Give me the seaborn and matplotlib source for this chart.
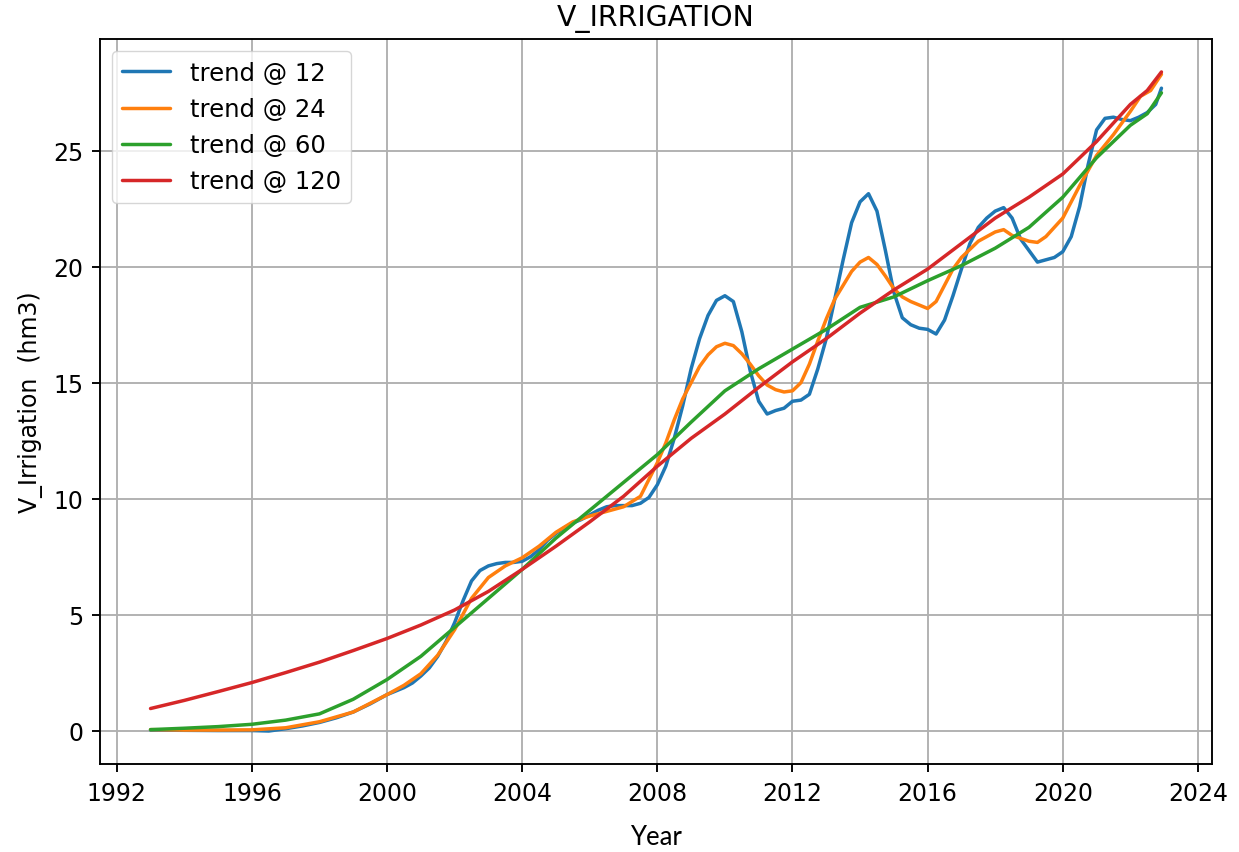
import matplotlib
matplotlib.use("Agg")
import matplotlib.pyplot as plt
import pandas as pd
import seaborn as sns
from matplotlib.ticker import MultipleLocator, FormatStrFormatter

# Trend components of irrigation volume (hm3) for different window lengths (months)
years_12 = [1993.0, 1994.0, 1995.0, 1996.0, 1996.5, 1997.0, 1997.5, 1998.0, 1998.5, 1999.0,
            1999.5, 2000.0, 2000.25, 2000.5, 2000.75, 2001.0, 2001.25, 2001.5, 2001.75, 2002.0,
            2002.25, 2002.5, 2002.75, 2003.0, 2003.25, 2003.5, 2003.75, 2004.0, 2004.25, 2004.5,
            2004.75, 2005.0, 2005.25, 2005.5, 2005.75, 2006.0, 2006.25, 2006.5, 2006.75, 2007.0,
            2007.25, 2007.5, 2007.75, 2008.0, 2008.25, 2008.5, 2008.75, 2009.0, 2009.25, 2009.5,
            2009.75, 2010.0, 2010.25, 2010.5, 2010.75, 2011.0, 2011.25, 2011.5, 2011.75, 2012.0,
            2012.25, 2012.5, 2012.75, 2013.0, 2013.25, 2013.5, 2013.75, 2014.0, 2014.25, 2014.5,
            2014.75, 2015.0, 2015.25, 2015.5, 2015.75, 2016.0, 2016.25, 2016.5, 2016.75, 2017.0,
            2017.25, 2017.5, 2017.75, 2018.0, 2018.25, 2018.5, 2018.75, 2019.0, 2019.25, 2019.5,
            2019.75, 2020.0, 2020.25, 2020.5, 2020.75, 2021.0, 2021.25, 2021.5, 2021.75, 2022.0,
            2022.25, 2022.5, 2022.75, 2022.92]
trend_12 = [0.02, 0.01, 0.0, 0.0, -0.02, 0.08, 0.2, 0.35, 0.55, 0.8,
            1.15, 1.55, 1.7, 1.85, 2.05, 2.35, 2.7, 3.2, 3.85, 4.65,
            5.6, 6.45, 6.9, 7.1, 7.2, 7.25, 7.25, 7.3, 7.5, 7.8,
            8.2, 8.5, 8.75, 8.95, 9.1, 9.3, 9.5, 9.65, 9.7, 9.7,
            9.7, 9.8, 10.05, 10.6, 11.4, 12.6, 14.0, 15.6, 16.9, 17.9,
            18.55, 18.75, 18.5, 17.2, 15.5, 14.2, 13.65, 13.8, 13.9, 14.2,
            14.25, 14.5, 15.6, 16.9, 18.6, 20.3, 21.9, 22.8, 23.15, 22.4,
            20.7, 18.9, 17.8, 17.5, 17.35, 17.3, 17.1, 17.7, 18.75, 19.9,
            21.0, 21.7, 22.1, 22.4, 22.55, 22.1, 21.2, 20.7, 20.2, 20.3,
            20.4, 20.65, 21.3, 22.6, 24.4, 25.9, 26.4, 26.45, 26.35, 26.3,
            26.45, 26.65, 27.0, 27.7]

years_24 = [1993.0, 1994.0, 1995.0, 1996.0, 1997.0, 1998.0, 1999.0, 2000.0, 2000.5, 2001.0,
            2001.5, 2002.0, 2002.5, 2003.0, 2003.5, 2004.0, 2004.5, 2005.0, 2005.5, 2006.0,
            2006.5, 2007.0, 2007.5, 2008.0, 2008.25, 2008.5, 2008.75, 2009.0, 2009.25, 2009.5,
            2009.75, 2010.0, 2010.25, 2010.5, 2010.75, 2011.0, 2011.25, 2011.5, 2011.75, 2012.0,
            2012.25, 2012.5, 2012.75, 2013.0, 2013.25, 2013.5, 2013.75, 2014.0, 2014.25, 2014.5,
            2014.75, 2015.0, 2015.25, 2015.5, 2015.75, 2016.0, 2016.25, 2016.5, 2016.75, 2017.0,
            2017.5, 2018.0, 2018.25, 2018.5, 2019.0, 2019.25, 2019.5, 2020.0, 2020.5, 2021.0,
            2021.5, 2022.0, 2022.3, 2022.6, 2022.92]
trend_24 = [0.04, 0.02, 0.02, 0.03, 0.12, 0.38, 0.8, 1.55, 1.95, 2.45,
            3.25, 4.35, 5.7, 6.6, 7.1, 7.45, 7.95, 8.55, 9.0, 9.25,
            9.45, 9.65, 10.1, 11.55, 12.4, 13.4, 14.3, 15.0, 15.7, 16.2,
            16.55, 16.7, 16.6, 16.25, 15.8, 15.3, 14.9, 14.7, 14.6, 14.65,
            15.0, 15.8, 16.8, 17.75, 18.6, 19.2, 19.8, 20.2, 20.4, 20.1,
            19.6, 19.05, 18.7, 18.5, 18.35, 18.2, 18.5, 19.2, 19.9, 20.4,
            21.1, 21.5, 21.6, 21.35, 21.1, 21.05, 21.3, 22.1, 23.5, 24.8,
            25.7, 26.7, 27.35, 27.6, 28.3]

years_60 = [1993.0, 1994.0, 1995.0, 1996.0, 1997.0, 1998.0, 1999.0, 2000.0, 2001.0, 2002.0,
            2003.0, 2004.0, 2005.0, 2006.0, 2007.0, 2008.0, 2009.0, 2010.0, 2011.0, 2012.0,
            2013.0, 2014.0, 2015.0, 2016.0, 2017.0, 2018.0, 2019.0, 2020.0, 2021.0, 2022.0,
            2022.5, 2022.92]
trend_60 = [0.04, 0.1, 0.17, 0.27, 0.45, 0.72, 1.35, 2.2, 3.2, 4.45,
            5.7, 6.95, 8.3, 9.5, 10.7, 11.9, 13.3, 14.65, 15.6, 16.45,
            17.3, 18.25, 18.7, 19.4, 20.05, 20.8, 21.7, 23.0, 24.7, 26.1,
            26.6, 27.5]

years_120 = [1993.0, 1994.0, 1995.0, 1996.0, 1997.0, 1998.0, 1999.0, 2000.0, 2001.0, 2002.0,
             2003.0, 2004.0, 2005.0, 2006.0, 2007.0, 2008.0, 2009.0, 2010.0, 2011.0, 2012.0,
             2013.0, 2014.0, 2015.0, 2016.0, 2017.0, 2018.0, 2019.0, 2020.0, 2021.0, 2022.0,
             2022.5, 2022.92]
trend_120 = [0.95, 1.3, 1.68, 2.07, 2.5, 2.95, 3.45, 3.97, 4.55, 5.2,
             6.0, 6.95, 7.95, 9.0, 10.1, 11.4, 12.6, 13.65, 14.8, 15.9,
             16.9, 18.0, 19.0, 19.9, 21.0, 22.1, 23.0, 24.0, 25.4, 27.0,
             27.6, 28.4]

series_labels = ["trend @ 12", "trend @ 24", "trend @ 60", "trend @ 120"]
series_colors = ["#1f77b4", "#ff7f0e", "#2ca02c", "#d62728"]

df = pd.concat(
    [pd.DataFrame({"Year": yrs, "value": vals, "series": lab})
     for lab, yrs, vals in zip(series_labels,
                               [years_12, years_24, years_60, years_120],
                               [trend_12, trend_24, trend_60, trend_120])],
    ignore_index=True)

plt.rcParams.update({
    "font.family": ["DejaVu Sans"],
    "font.size": 17,
    "axes.linewidth": 1.36,
    "xtick.major.size": 6,
    "ytick.major.size": 6,
    "xtick.major.width": 1.36,
    "ytick.major.width": 1.36,
    "xtick.major.pad": 6,
    "ytick.major.pad": 6,
    "lines.solid_joinstyle": "round",
    "lines.solid_capstyle": "round",
})

fig = plt.figure(figsize=(12.39, 8.53), dpi=100)
ax = fig.add_axes([0.0807, 0.1032, 0.8975, 0.8499])

sns.lineplot(data=df, x="Year", y="value", hue="series", hue_order=series_labels,
             palette=series_colors, linewidth=2.5, estimator=None, ax=ax)

ax.grid(True, color="#b0b0b0", linewidth=1.36)
ax.set_axisbelow(True)
ax.xaxis.set_major_locator(MultipleLocator(4))
ax.xaxis.set_major_formatter(FormatStrFormatter("%d"))
ax.yaxis.set_major_locator(MultipleLocator(5))
ax.tick_params(labelsize=17)

ax.set_title("V_IRRIGATION", fontsize=20.4, pad=10)
ax.set_ylabel("V_Irrigation  (hm3)", fontsize=17, labelpad=7)
ax.set_xlabel("Year", fontsize=18.5, family=["Lato", "DejaVu Sans"], labelpad=14)

leg = ax.legend(loc="upper left", fontsize=17.5, title=None, framealpha=0.8,
                edgecolor="0.8", borderaxespad=0.5)
for line in leg.get_lines():
    line.set_linewidth(2.5)

fig.savefig("out.png", dpi=100)
